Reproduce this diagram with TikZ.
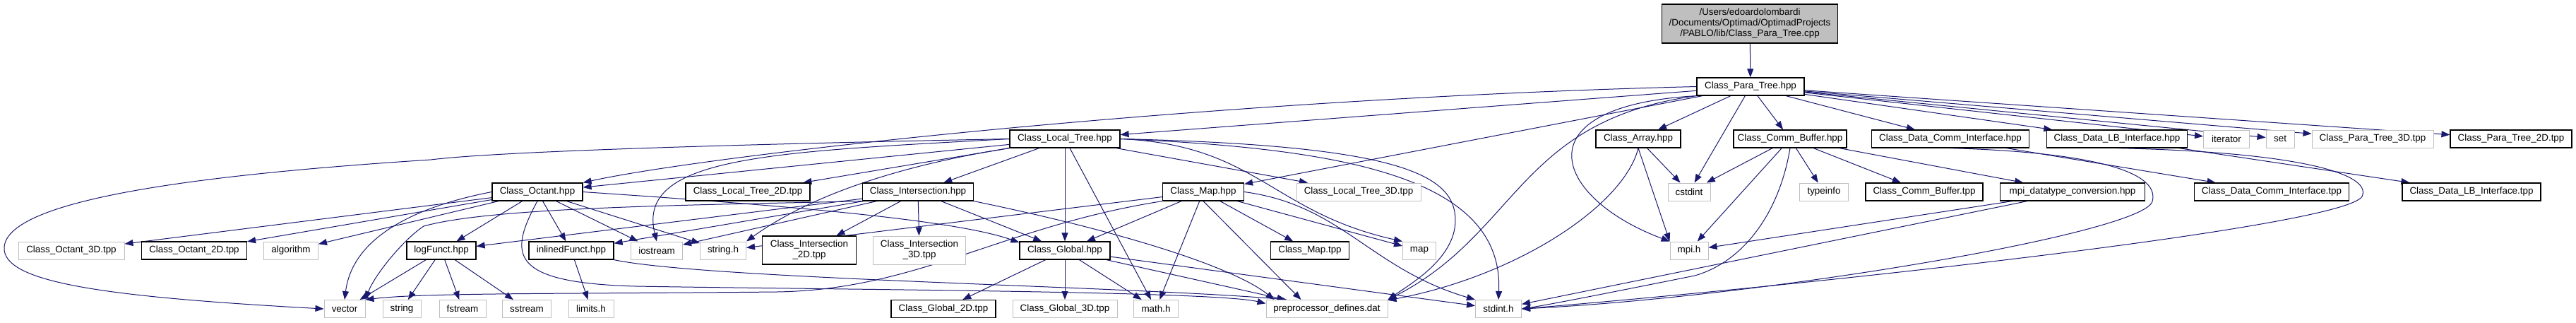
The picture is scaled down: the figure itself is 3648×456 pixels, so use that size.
\documentclass[tikz,border=0pt]{standalone}
\usepackage{fontspec}
\setmainfont{Liberation Sans}
\usetikzlibrary{arrows.meta,backgrounds}
\definecolor{edgec}{RGB}{25,25,112}
\definecolor{grayb}{RGB}{191,191,191}
\tikzset{
  box/.style={rectangle, draw=black, line width=1.2pt, fill=white, inner sep=0pt,
    minimum height=25pt, font=\fontsize{13.4}{15}\selectfont, align=center},
  ext/.style={box, draw=grayb, line width=1pt},
  dep/.style={draw=edgec, line width=1pt, -{Triangle[length=12pt,width=9pt]}}
}
\begin{document}
\begin{tikzpicture}[x=1pt,y=-1pt]
\useasboundingbox (0,0) rectangle (3648,456);
% row 0/1
\node[box, fill=grayb, minimum width=249pt, minimum height=55pt] (root) at (2478,33.5)
  {/Users/edoardolombardi\\/Documents/Optimad/OptimadProjects\\/PABLO/lib/Class\_Para\_Tree.cpp};
\node[box, minimum width=152pt] (PT) at (2479,122.5) {Class\_Para\_Tree.hpp};
% row 2
\node[box, minimum width=156pt] (LT) at (1508,196.5) {Class\_Local\_Tree.hpp};
\node[box, minimum width=120pt] (ARR) at (2320,196.5) {Class\_Array.hpp};
\node[box, minimum width=160pt] (CB) at (2535,196.5) {Class\_Comm\_Buffer.hpp};
\node[box, minimum width=223pt] (DCI) at (2762,196.5) {Class\_Data\_Comm\_Interface.hpp};
\node[box, minimum width=199pt] (DLB) at (2998,196.5) {Class\_Data\_LB\_Interface.hpp};
\node[ext, minimum width=65pt] (iter) at (3153,196.5) {iterator};
\node[ext, minimum width=40pt] (set) at (3229,196.5) {set};
\node[ext, minimum width=172pt] (PT3D) at (3360,196.5) {Class\_Para\_Tree\_3D.tpp};
\node[box, minimum width=172pt] (PT2D) at (3556,196.5) {Class\_Para\_Tree\_2D.tpp};
% row 3
\node[box, minimum width=128pt] (OCT) at (761,271.5) {Class\_Octant.hpp};
\node[box, minimum width=176pt] (LT2D) at (1059,271.5) {Class\_Local\_Tree\_2D.tpp};
\node[box, minimum width=157pt] (INT) at (1300,271.5) {Class\_Intersection.hpp};
\node[box, minimum width=115pt] (MAP) at (1704,271.5) {Class\_Map.hpp};
\node[ext, minimum width=176pt] (LT3D) at (1924,271.5) {Class\_Local\_Tree\_3D.tpp};
\node[ext, minimum width=60pt] (cstdint) at (2392,271.5) {cstdint};
\node[ext, minimum width=69pt] (typeinfo) at (2583,271.5) {typeinfo};
\node[box, minimum width=166pt] (CBT) at (2725,271.5) {Class\_Comm\_Buffer.tpp};
\node[box, minimum width=205pt] (MPID) at (2935,271.5) {mpi\_datatype\_conversion.hpp};
\node[box, minimum width=219pt] (DCIT) at (3217,271.5) {Class\_Data\_Comm\_Interface.tpp};
\node[box, minimum width=196pt] (DLBT) at (3500,271.5) {Class\_Data\_LB\_Interface.tpp};
% row 4
\node[ext, minimum width=150pt] (O3D) at (101,354.5) {Class\_Octant\_3D.tpp};
\node[box, minimum width=149pt] (O2D) at (275,354.5) {Class\_Octant\_2D.tpp};
\node[ext, minimum width=77pt] (algo) at (412,354.5) {algorithm};
\node[box, minimum width=98pt] (logF) at (625,354.5) {logFunct.hpp};
\node[box, minimum width=120pt] (inlF) at (809,354.5) {inlinedFunct.hpp};
\node[ext, minimum width=73pt] (iostream) at (930,354.5) {iostream};
\node[ext, minimum width=65pt] (stringh) at (1024,354.5) {string.h};
\node[box, minimum width=133pt, minimum height=40pt] (INT2D) at (1146,354) {Class\_Intersection\\\_2D.tpp};
\node[ext, minimum width=131pt, minimum height=40pt] (INT3D) at (1302,354) {Class\_Intersection\\\_3D.tpp};
\node[box, minimum width=128pt] (GLOB) at (1508,354.5) {Class\_Global.hpp};
\node[box, minimum width=111pt] (MAPT) at (1855,354.5) {Class\_Map.tpp};
\node[ext, minimum width=47pt] (map) at (2010,354.5) {map};
\node[ext, minimum width=54pt] (mpi) at (2392,354.5) {mpi.h};
% row 5
\node[ext, minimum width=58pt] (vector) at (488,437) {vector};
\node[ext, minimum width=54pt] (string) at (569,437) {string};
\node[ext, minimum width=66pt] (fstream) at (655,437) {fstream};
\node[ext, minimum width=69pt] (sstream) at (746,437) {sstream};
\node[ext, minimum width=64pt] (limits) at (837,437) {limits.h};
\node[box, minimum width=148pt] (G2D) at (1336,437) {Class\_Global\_2D.tpp};
\node[ext, minimum width=148pt] (G3D) at (1508,437) {Class\_Global\_3D.tpp};
\node[ext, minimum width=63pt] (math) at (1637,437) {math.h};
\node[ext, minimum width=172pt] (pre) at (1879,437) {preprocessor\_defines.dat};
\node[ext, minimum width=65pt] (stdint) at (2122,437) {stdint.h};

\begin{scope}[on background layer]
\draw[dep] (root) -- (PT);
% Class_Para_Tree.hpp
\draw[dep] (PT) -- (LT);
\draw[dep] (PT.west) .. controls (1700,140) and (1000,220) .. (OCT.north east);
\draw[dep] (PT) -- (ARR);
\draw[dep] (PT) -- (CB);
\draw[dep] (PT) -- (DCI);
\draw[dep] (PT) -- (DLB);
\draw[dep] (PT) -- (iter);
\draw[dep] (PT) -- (set);
\draw[dep] (PT) -- (PT3D);
\draw[dep] (PT) -- (PT2D);
\draw[dep] (PT) -- (MAP);
\draw[dep] (PT) -- (cstdint);
\draw[dep] (PT.south west) .. controls (2150,150) and (2200,280) .. (mpi.north west);
\draw[dep] (PT.south west) .. controls (2150,170) and (2150,330) .. (pre.north east);
% Class_Local_Tree.hpp
\draw[dep] (LT) -- (OCT);
\draw[dep] (LT.west) .. controls (1000,205) and (700,215) .. (610,226)
  .. controls (300,246) and (10,280) .. (6,350)
  .. controls (3,400) and (150,420) .. (vector.west);
\draw[dep] (LT.west) .. controls (1100,215) and (900,220) .. (iostream.north);
\draw[dep] (LT.south west) .. controls (1330,225) and (1170,260) .. (stringh.north east);
\draw[dep] (LT) -- (LT2D);
\draw[dep] (LT) -- (INT);
\draw[dep] (LT) -- (GLOB);
\draw[dep] (LT) -- (math);
\draw[dep] (LT) -- (LT3D);
\draw[dep] (LT.east) .. controls (1780,205) and (1800,300) .. (map.north west);
\draw[dep] (LT.east) .. controls (1900,210) and (2130,250) .. (stdint.north);
\draw[dep] (LT.east) .. controls (1950,205) and (2050,240) .. (2060,300)
  .. controls (2070,360) and (2000,400) .. (pre.north east);
% Class_Octant.hpp
\draw[dep] (OCT) -- (O3D);
\draw[dep] (OCT) -- (O2D);
\draw[dep] (OCT) -- (algo);
\draw[dep] (OCT.west) .. controls (600,290) and (500,330) .. (vector.north);
\draw[dep] (OCT) -- (logF);
\draw[dep] (OCT) -- (inlF);
\draw[dep] (OCT) -- (iostream);
\draw[dep] (OCT) -- (stringh);
\draw[dep] (OCT.east) .. controls (1100,290) and (1350,310) .. (GLOB.170);
\draw[dep] (OCT.south) .. controls (720,360) and (720,400) .. (900,405)
  .. controls (1200,410) and (1720,412) .. (pre.175);
% Class_Intersection.hpp
\draw[dep] (INT) -- (INT2D);
\draw[dep] (INT) -- (INT3D);
\draw[dep] (INT) -- (GLOB);
\draw[dep] (INT.south east) .. controls (1600,330) and (1750,380) .. ([xshift=12pt]pre.north west);
\draw[dep] (INT) -- (logF);
\draw[dep] (INT) -- (inlF);
\draw[dep] (INT) -- (iostream);
\draw[dep] (INT.south west) .. controls (1000,290) and (700,292) .. (600,320)
  .. controls (570,340) and (530,390) .. (vector.north east);
% Class_Map.hpp
\draw[dep] (MAP) -- (MAPT);
\draw[dep] (MAP) -- (map);
\draw[dep] (MAP.east) .. controls (1900,290) and (1940,380) .. (stdint.north west);
\draw[dep] (MAP.south) -- ([xshift=50pt]pre.north west);
\draw[dep] (MAP) -- (math);
\draw[dep] (MAP) -- (GLOB);
\draw[dep] (MAP) -- (stringh);
\draw[dep] (MAP.south west) .. controls (1420,320) and (1300,410) .. (1100,413)
  .. controls (800,416) and (600,414) .. (vector.north east);
% Class_Global.hpp
\draw[dep] (GLOB) -- (G2D);
\draw[dep] (GLOB) -- (G3D);
\draw[dep] (GLOB) -- (math);
\draw[dep] (GLOB) -- (pre);
\draw[dep] (GLOB) -- (stdint);
% logFunct / inlinedFunct
\draw[dep] (logF) -- (vector);
\draw[dep] (logF) -- (string);
\draw[dep] (logF) -- (fstream);
\draw[dep] (logF) -- (sstream);
\draw[dep] (inlF) -- (limits);
\draw[dep] (inlF.south east) .. controls (1000,395) and (1600,405) .. ([xshift=30pt]pre.north west);
% Class_Array.hpp
\draw[dep] (ARR) -- (cstdint);
\draw[dep] (ARR.south) -- (mpi.north west);
\draw[dep] (ARR.south) .. controls (2300,290) and (2150,390) .. (pre.8);
% Class_Comm_Buffer.hpp
\draw[dep] (CB) -- (cstdint);
\draw[dep] (CB) -- (mpi);
\draw[dep] (CB) -- (typeinfo);
\draw[dep] (CB) -- (CBT);
\draw[dep] (CB) -- (MPID);
\draw[dep] (CB.south) .. controls (2520,300) and (2470,370) .. (2400,390)
  .. controls (2300,410) and (2200,430) .. (stdint.east);
% mpi_datatype_conversion.hpp
\draw[dep] (MPID) -- (mpi);
\draw[dep] (MPID) -- (stdint);
% data interfaces
\draw[dep] (DCI) -- (DCIT);
\draw[dep] (DCI.south) .. controls (2950,215) and (3060,240) .. (3048,285)
  .. controls (3035,330) and (2500,420) .. (stdint.east);
\draw[dep] (DLB) -- (DLBT);
\draw[dep] (DLB.south) .. controls (3250,215) and (3360,245) .. (3345,278)
  .. controls (3320,320) and (2600,400) .. (stdint.east);
\end{scope}
\end{tikzpicture}
\end{document}
